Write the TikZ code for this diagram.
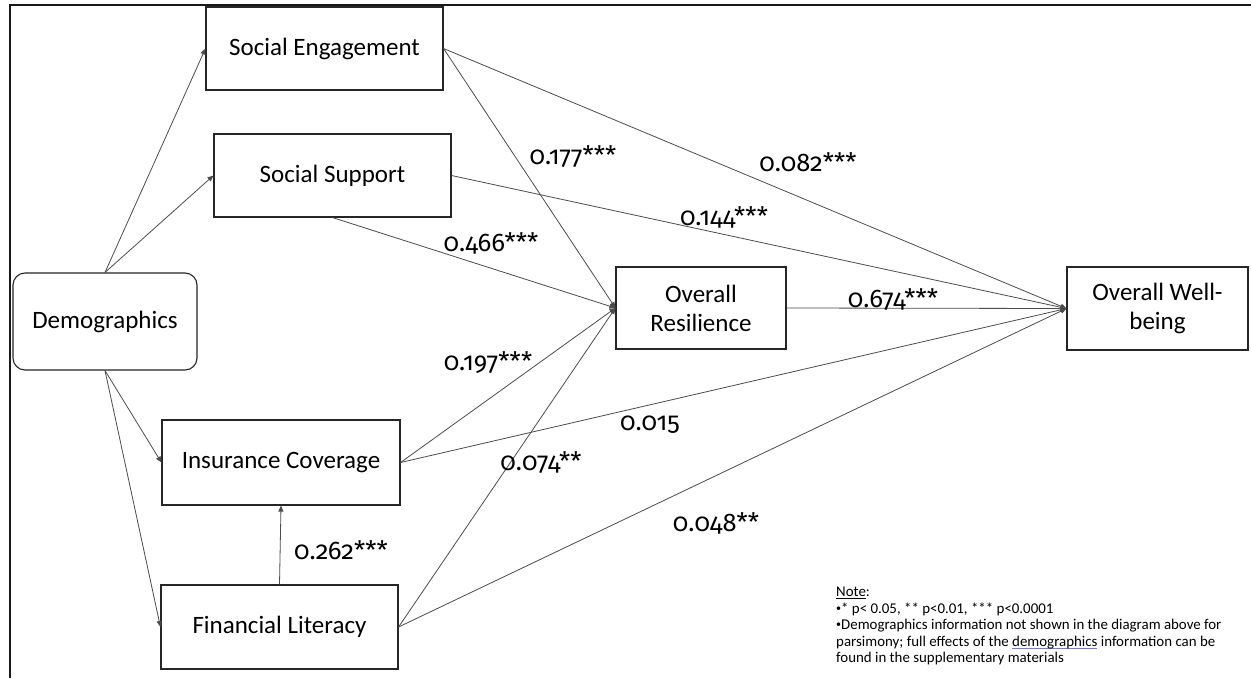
\documentclass[tikz,border=0pt]{standalone}
\usepackage{fontspec}
\setmainfont{Carlito}
\newfontfamily\numfont[Numbers=OldStyle]{Fira Sans}
\usetikzlibrary{arrows.meta}
\newsavebox\spellbox
\newcommand\spellul[1]{\sbox\spellbox{#1}\rlap{\textcolor{blue!55}{\rule[-3pt]{\wd\spellbox}{0.8pt}}}\usebox\spellbox}
\newcommand\smbul{\raisebox{0.25ex}{\fontsize{10}{10}\selectfont•}}
\begin{document}
\begin{tikzpicture}[x=1pt,y=-1pt,
  box/.style={draw=black!85, line width=1.1pt, inner sep=2pt, align=center,
    font=\fontsize{25}{29}\selectfont},
  conn/.style={draw=black!70, line width=0.8pt, -{Triangle[length=6pt,width=5pt]}},
  lab/.style={font=\numfont\fontsize{25.5}{28}\selectfont, inner sep=0pt},
  notetext/.style={font=\fontsize{14.9}{16.5}\selectfont, align=left, inner sep=0pt, anchor=north west}]
\useasboundingbox (0,0) rectangle (1251,678);
\fill[white] (0,0) rectangle (1251,678);
\coordinate (fTL) at (10,5);
\coordinate (fTR) at (1251,5);
\coordinate (fBL) at (10,678);
\draw[line width=1.6pt, black!90] (fBL) -- (fTL) -- (fTR);

\node[box, minimum width=237pt, minimum height=83pt] (se) at (324.5,48.5) {Social Engagement};
\node[box, minimum width=237pt, minimum height=83pt] (ss) at (332.5,175.5) {Social Support};
\node[box, rounded corners=12pt, minimum width=184pt, minimum height=97pt] (dem) at (105,321.5) {Demographics};
\node[box, minimum width=238pt, minimum height=85pt] (ic) at (281,462.5) {Insurance Coverage};
\node[box, minimum width=237pt, minimum height=84pt] (fl) at (279.5,627) {Financial Literacy};
\node[box, minimum width=170pt, minimum height=82pt] (or) at (701,308) {Overall\\Resilience};
\node[box, minimum width=181pt, minimum height=83pt] (wb) at (1157.5,308.5) {Overall Well-\\being};

\draw[conn] (dem.north) -- (se.west);
\draw[conn] (dem.north) -- (ss.west);
\draw[conn] (dem.south) -- (ic.west);
\draw[conn] (dem.south) -- (fl.west);
\draw[conn] (fl.north) -- (ic.south);
\draw[conn] (se.east) -- (or.west);
\draw[conn] (se.east) -- (wb.west);
\draw[conn] (ss.east) -- (wb.west);
\draw[conn] (ss.south) -- (or.west);
\draw[conn] (ic.east) -- (or.west);
\draw[conn] (ic.east) -- (wb.west);
\draw[conn] (fl.east) -- (or.west);
\draw[conn] (fl.east) -- (wb.west);
\draw[conn] (or.east) -- (wb.west);

\node[lab] (l177) at (573,157) {0.177***};
\node[lab] (l082) at (808,162) {0.082***};
\node[lab] (l144) at (724,217) {0.144***};
\node[lab] (l466) at (491,243) {0.466***};
\node[lab] (l674) at (893,300) {0.674***};
\node[lab] (l197) at (488,363) {0.197***};
\node[lab] (l015) at (650,425) {0.015};
\node[lab] (l074) at (541,463) {0.074**};
\node[lab] (l048) at (716,523) {0.048**};
\node[lab] (l262) at (341,550) {0.262***};

\node[notetext] (note) at (836,587) {\underline{Note}:\\
\smbul* p< 0.05, ** p<0.01, *** p<0.0001\\
\smbul Demographics information not shown in the diagram above for\\
parsimony; full effects of the \spellul{demographics} information can be\\
found in the supplementary materials};
\end{tikzpicture}
\end{document}
